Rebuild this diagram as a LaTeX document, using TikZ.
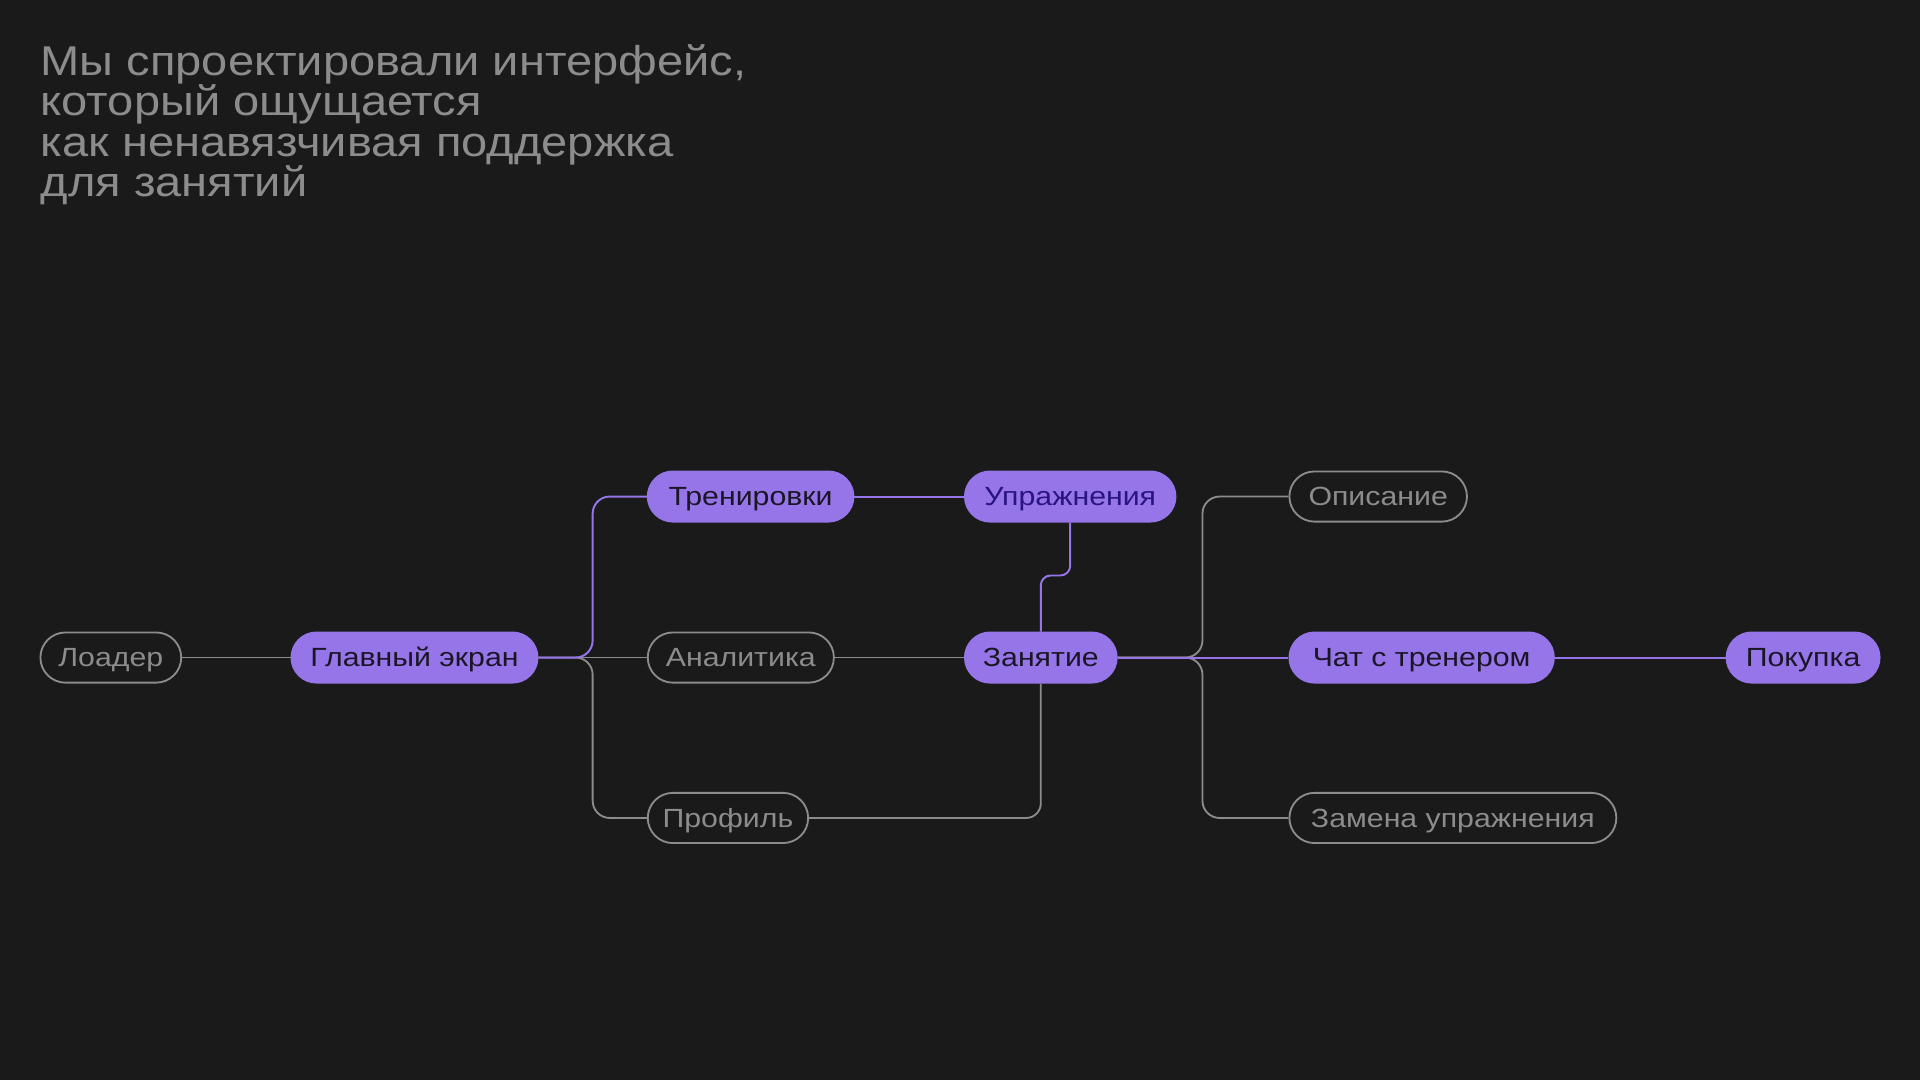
\documentclass[tikz,border=0pt]{standalone}
\usepackage{fontspec}
\setmainfont{Liberation Sans}
\newfontfamily\widefont[FakeStretch=1.15]{Liberation Sans}
\newfontfamily\titlefont[FakeStretch=1.13]{Liberation Sans}
\definecolor{bgc}{HTML}{1A1A1A}
\definecolor{pur}{HTML}{9575E8}
\definecolor{gry}{HTML}{8C8C8C}
\definecolor{darktxt}{HTML}{1A1626}
\definecolor{indtxt}{HTML}{2A1580}
\tikzset{
  pill/.style={rounded corners=20.5pt, minimum height=41pt, inner sep=0pt,
    text height=15.4pt, text depth=0pt,
    font=\widefont\fontsize{21.5}{24}\selectfont, line width=1.5pt},
  onpill/.style={pill, fill=pur, draw=pur, text=darktxt},
  offpill/.style={pill, draw=gry, text=gry},
  pline/.style={draw=pur, line width=1.6pt},
  gline/.style={draw=gry, line width=1.5pt},
}
\begin{document}
\begin{tikzpicture}[x=1pt,y=-1pt]
\fill[bgc] (0,0) rectangle (1568,882);
\useasboundingbox (0,0) rectangle (1568,882);

\node[anchor=north west, align=left, text=gry, inner sep=0pt,
  font=\titlefont\fontsize{34}{33}\selectfont] (title) at (33,36)
  {Мы спроектировали интерфейс,\\который ощущается\\как ненавязчивая поддержка\\для занятий};

\node[offpill, minimum width=115pt] (load) at (90.5,537) {Лоадер};
\node[onpill, minimum width=201pt] (main) at (338.5,537) {Главный экран};
\node[onpill, minimum width=168pt] (tren) at (613,405.5) {Тренировки};
\node[onpill, minimum width=172pt, text=indtxt] (upr) at (874,405.5) {Упражнения};
\node[offpill, minimum width=152pt] (anal) at (605,537) {Аналитика};
\node[onpill, minimum width=124pt] (zan) at (850,537) {Занятие};
\node[offpill, minimum width=131pt] (prof) at (594.5,668) {Профиль};
\node[offpill, minimum width=145pt] (opis) at (1125.5,405.5) {Описание};
\node[onpill, minimum width=216pt] (chat) at (1161,537) {Чат с тренером};
\node[onpill, minimum width=125pt] (pok) at (1472.5,537) {Покупка};
\node[offpill, minimum width=267pt] (zam) at (1186.5,668) {Замена упражнения};

\coordinate (j1) at (484,537);
\coordinate (j2) at (982,537);
\coordinate (k) at (874,470);

% gray connectors
\draw[gline] (load.east) -- (main.west);
\draw[gline] (main.east) -- (anal.west);
\draw[gline, rounded corners=14pt] (main.east) -- (j1) -- (j1 |- prof.west) -- (prof.west);
\draw[gline] (anal.east) -- (zan.west);
\draw[gline, rounded corners=12pt] (prof.east) -- (prof.east -| zan.south) -- (zan.south);
\draw[gline, rounded corners=14pt] (zan.east) -- (j2) -- (j2 |- opis.west) -- (opis.west);
\draw[gline, rounded corners=14pt] (zan.east) -- (j2) -- (j2 |- zam.west) -- (zam.west);

% purple connectors
\draw[pline, rounded corners=14pt] (main.east) -- (j1) -- (j1 |- tren.west) -- (tren.west);
\draw[pline] (tren.east) -- (upr.west);
\draw[pline, rounded corners=8pt] (upr.south) -- (k) -- (k -| zan.north) -- (zan.north);
\draw[pline] (zan.east) -- (chat.west);
\draw[pline] (chat.east) -- (pok.west);
\end{tikzpicture}
\end{document}
